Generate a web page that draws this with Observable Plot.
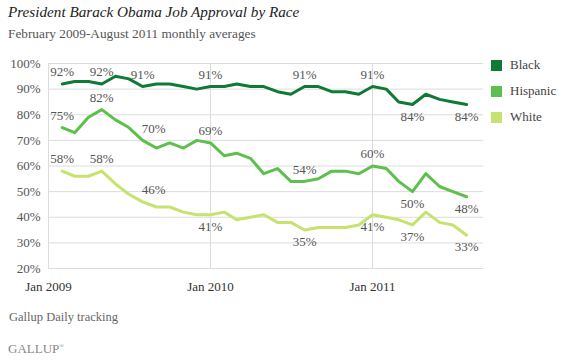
<!DOCTYPE html>
<html><head><meta charset="utf-8">
<script src="https://cdn.jsdelivr.net/npm/d3@7"></script>
<script src="https://cdn.jsdelivr.net/npm/@observablehq/plot@0.6"></script>
<style>
body{margin:0;background:#fff;font-family:"Liberation Serif",serif;}
#wrap{position:relative;width:570px;height:362px;overflow:hidden;background:#fff}
#title{position:absolute;left:8px;top:3px;font-style:italic;font-size:15.2px;color:#222;white-space:nowrap}
#sub{position:absolute;left:8px;top:26px;font-size:13.3px;color:#555;white-space:nowrap}
#chart{position:absolute;left:0;top:50px}
#legend{position:absolute;left:491px;top:59px;font-size:13px;color:#444;font-family:"Liberation Serif",serif}
.li{position:relative;height:26px}
.sw{position:absolute;left:0;top:1px;width:11px;height:11px}
.lt{position:absolute;left:19px;top:-2px;white-space:nowrap}
#cap{position:absolute;left:9px;top:310px;font-size:12.5px;color:#666;white-space:nowrap}
#logo{position:absolute;left:8px;top:341px;font-size:13px;color:#888;white-space:nowrap}
#logo sup{font-size:6px}
</style></head>
<body>
<div id="wrap">
  <div id="title">President Barack Obama Job Approval by Race</div>
  <div id="sub">February 2009-August 2011 monthly averages</div>
  <div id="chart"></div>
  <div id="legend"></div>
  <div id="cap">Gallup Daily tracking</div>
  <div id="logo">GALLUP<sup>®</sup></div>
</div>
<script>
const months = ["2009-02","2009-03","2009-04","2009-05","2009-06","2009-07","2009-08","2009-09","2009-10","2009-11","2009-12",
  "2010-01","2010-02","2010-03","2010-04","2010-05","2010-06","2010-07","2010-08","2010-09","2010-10","2010-11","2010-12",
  "2011-01","2011-02","2011-03","2011-04","2011-05","2011-06","2011-07","2011-08"];
const black    = [92,93,93,92,95,94,91,92,92,91,90, 91,91,92,91,91,89,88,91,91,89,89,88, 91,90,85,84,88,86,85,84];
const hispanic = [75,73,79,82,78,75,70,67,69,67,70, 69,64,65,63,57,59,54,54,55,58,58,57, 60,59,54,50,57,52,50,48];
const white    = [58,56,56,58,53,49,46,44,44,42,41, 41,42,39,40,41,38,38,35,36,36,36,37, 41,40,39,37,42,38,37,33];
const seriesNames = ["Black","Hispanic","White"];
const seriesColors = ["#0e7a35","#5dbf4c","#c6e36f"];
const yTicks = [20,30,40,50,60,70,80,90,100];
const xTickLabels = ["2009-01","2010-01","2011-01"];
// labelled months per series, with placement
const labelMonths = ["2009-02","2009-05","2009-08","2010-01","2010-08","2011-01","2011-04","2011-08"];
const labelSide = {
  Black:    ["above","above","above","above","above","above","below","below"],
  Hispanic: ["above","above","above","above","above","above","below","below"],
  White:    ["above","above","above","below","below","below","below","below"]
};

const parse = d3.utcParse("%Y-%m");
const valuesBy = {Black: black, Hispanic: hispanic, White: white};
const data = seriesNames.flatMap(s => months.map((m, i) => ({series: s, date: parse(m), value: valuesBy[s][i]})));
const labels = seriesNames.flatMap(s => labelMonths.map((m, k) => {
  const i = months.indexOf(m);
  return {series: s, date: parse(m), value: valuesBy[s][i], side: labelSide[s][k],
          shift: (m === "2009-08" && s !== "Black") ? 11 : 0};
}));
const xTicks = xTickLabels.map(parse);
const fmt = d3.utcFormat("%b %Y");

const plot = Plot.plot({
  width: 570, height: 250,
  marginTop: 13, marginBottom: 32, marginLeft: 48, marginRight: 87,
  style: {fontFamily: "'Liberation Serif', serif", fontSize: "13px", color: "#555", background: "transparent"},
  x: {type: "utc", domain: [parse("2009-01"), new Date(Date.UTC(2011, 8, 8))], label: null},
  y: {domain: [20, 100], label: null},
  color: {domain: seriesNames, range: seriesColors},
  marks: [
    Plot.gridY(yTicks, {stroke: "#dcdcdc", strokeOpacity: 1}),
    Plot.gridX(xTicks, {stroke: "#dcdcdc", strokeOpacity: 1}),
    Plot.axisY(yTicks, {tickSize: 0, tickPadding: 8, tickFormat: d => d + "%", fill: "#555", fontFamily: "Liberation Serif"}),
    Plot.axisX(xTicks, {tickSize: 0, tickPadding: 13, tickFormat: fmt, fill: "#333", fontFamily: "Liberation Serif"}),
    Plot.line(data, {x: "date", y: "value", z: "series", stroke: "series", strokeWidth: 3, curve: "linear"}),
    Plot.text(labels.filter(d => d.side === "above" && d.shift === 0), {x: "date", y: "value", text: d => d.value + "%", dy: -12, fill: "#555", fontFamily: "Liberation Serif"}),
    Plot.text(labels.filter(d => d.side === "above" && d.shift !== 0), {x: "date", y: "value", text: d => d.value + "%", dy: -12, dx: 11, fill: "#555", fontFamily: "Liberation Serif"}),
    Plot.text(labels.filter(d => d.side === "below"), {x: "date", y: "value", text: d => d.value + "%", dy: 12, fill: "#555", fontFamily: "Liberation Serif"})
  ]
});
document.getElementById("chart").appendChild(plot);

const leg = document.getElementById("legend");
seriesNames.forEach((s, i) => {
  const row = document.createElement("div");
  row.className = "li";
  row.innerHTML = `<div class="sw" style="background:${seriesColors[i]}"></div><div class="lt">${s}</div>`;
  leg.appendChild(row);
});
</script>
</body></html>
